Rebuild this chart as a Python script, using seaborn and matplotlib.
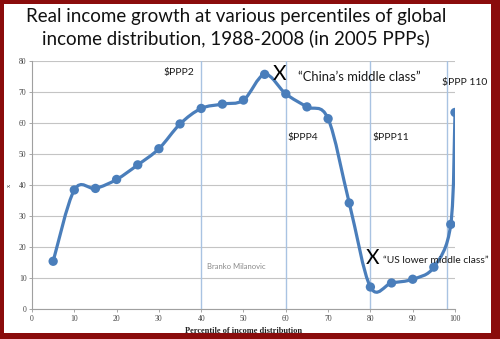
import numpy as np
import pandas as pd
import seaborn as sns
import matplotlib
matplotlib.use("Agg")
import matplotlib.pyplot as plt
from matplotlib.path import Path
from matplotlib.patches import PathPatch, Rectangle

# ---- data ----
percentiles = [5, 10, 15, 20, 25, 30, 35, 40, 45, 50, 55, 60, 65, 70, 75, 80, 85, 90, 95, 99, 100]
growth = [15.4, 38.4, 38.9, 41.8, 46.5, 51.7, 59.7, 64.7, 66.1, 67.4, 75.7, 69.4, 65.2, 61.4,
          34.2, 7.1, 8.4, 9.6, 13.5, 27.3, 63.4]
xticks = list(range(0, 101, 10))
yticks = list(range(0, 81, 10))
ppp_lines = [40, 60, 80, 98]
ppp_labels = ["$PPP2", "$PPP4", "$PPP11", "$PPP 110"]

title = "Real income growth at various percentiles of global\nincome distribution, 1988-2008 (in 2005 PPPs)"

df = pd.DataFrame({"pct": percentiles, "growth": growth})

sns.set_theme(style="white")
plt.rcParams["font.family"] = ["Lato", "DejaVu Sans"]

BLUE = "#4a7ebb"
RED = "#8a0c0c"

fig = plt.figure(figsize=(5.0, 3.39), dpi=100)
fig.patch.set_facecolor(RED)
fig.patches.append(Rectangle((0.008, 0.0177), 0.974, 0.9705, transform=fig.transFigure,
                             facecolor="white", edgecolor="none", zorder=-5))

ax = fig.add_axes([0.064, 0.0885, 0.846, 0.7315])
ax.set_zorder(2)
ax.set_facecolor("white")

# gridlines
for y in yticks:
    ax.axhline(y, color="#c4c4c4", lw=0.8, zorder=0)
for x in ppp_lines:
    ax.axvline(x, color="#a9c3e2", lw=1.0, zorder=1)


def smooth_path(xs, ys, t=1/6):
    pts = np.column_stack([xs, ys]).astype(float)
    n = len(pts)
    verts = [pts[0]]
    codes = [Path.MOVETO]
    for i in range(n - 1):
        p0 = pts[i - 1] if i > 0 else pts[i]
        p1 = pts[i]
        p2 = pts[i + 1]
        p3 = pts[i + 2] if i + 2 < n else pts[i + 1]
        c1 = p1 + (p2 - p0) * t
        c2 = p2 - (p3 - p1) * t
        verts += [c1, c2, p2]
        codes += [Path.CURVE4] * 3
    return Path(verts, codes)


ax.add_patch(PathPatch(smooth_path(df["pct"], df["growth"]), facecolor="none",
                       edgecolor=BLUE, lw=2.3, zorder=2, capstyle="round", joinstyle="round"))
sns.scatterplot(data=df, x="pct", y="growth", color=BLUE, s=45, edgecolor="none",
                zorder=3, ax=ax, legend=False)

ax.set_xlim(0, 100)
ax.set_ylim(0, 80)
ax.set_xticks(xticks)
ax.set_yticks(yticks)
tick_font = {"family": ["Liberation Serif"], "size": 5.5, "color": "#444444"}
ax.set_xticklabels([str(v) for v in xticks], **tick_font)
ax.set_yticklabels([str(v) for v in yticks], **tick_font)
ax.tick_params(axis="both", length=2, width=0.6, color="#999999", pad=2,
               bottom=True, left=True)
for s in ["top", "right"]:
    ax.spines[s].set_visible(False)
for s in ["left", "bottom"]:
    ax.spines[s].set_color("#a0a0a0")
    ax.spines[s].set_linewidth(0.8)

ax.set_xlabel("Percentile of income distribution", family=["Liberation Serif"],
              fontsize=6, fontweight="bold", color="#222222", labelpad=3)
ax.set_ylabel("x", family=["Liberation Serif"], fontsize=4.5, rotation=90,
              color="#333333", labelpad=5)

# annotations
lab_kw = dict(fontsize=7.5, color="#1a1a1a", ha="left", va="center")
ax.text(31, 76.2, ppp_labels[0], **lab_kw)
ax.text(60.3, 55.3, ppp_labels[1], **lab_kw)
ax.text(80.5, 55.3, ppp_labels[2], **lab_kw)
ax.text(97, 73, ppp_labels[3], **lab_kw)

ax.text(56.9, 75.8, "X", fontsize=15, color="black", ha="left", va="center")
ax.text(62.8, 74.8, "\u201cChina\u2019s middle class\u201d", fontsize=9.4, color="#1a1a1a",
        ha="left", va="center")
ax.text(78.9, 16.5, "X", fontsize=15, color="black", ha="left", va="center")
ax.text(83, 15.8, "\u201cUS lower middle class\u201d", fontsize=7.4, color="#1a1a1a",
        ha="left", va="center")
ax.text(41.3, 13.8, "Branko Milanovic", fontsize=5.5, color="#8a8a8a", ha="left", va="center")

fig.text(0.472, 0.918, title, ha="center", va="center", fontsize=13.5, color="#111111",
         linespacing=1.25)

fig.savefig("out.png", dpi=100, facecolor=fig.get_facecolor())
